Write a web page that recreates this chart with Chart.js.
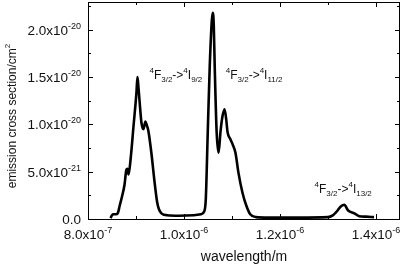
<!DOCTYPE html>
<html>
<head>
<meta charset="utf-8">
<script src="https://cdn.jsdelivr.net/npm/chart.js@4/dist/chart.umd.min.js"></script>
<style>
  html, body { margin: 0; padding: 0; background: #fff; }
  #wrap { width: 404px; height: 265px; }
</style>
</head>
<body>
<div id="wrap"><canvas id="chart" width="404" height="265"></canvas></div>
<script>
// wavelength in nm, cross section in units of 1e-20 cm^2
const wavelength = [847, 850, 853, 858, 862, 866, 871, 876, 880, 882, 884.5, 888.7, 894.8, 901, 903, 905, 907.2, 911.3, 915.5, 919.6, 922, 925.8, 932, 938, 944, 948, 953, 965, 990, 1020, 1035, 1042, 1045.4, 1049.5, 1053.6, 1058, 1060, 1062, 1064, 1068, 1072, 1076, 1080, 1084.5, 1088, 1090.7, 1096.9, 1102, 1107.2, 1113.4, 1121.7, 1129.9, 1138, 1150, 1175, 1237, 1300, 1309, 1320, 1326, 1334, 1342, 1355, 1365, 1379, 1396];
const crossSection = [0.01, 0.04, 0.05, 0.05, 0.06, 0.14, 0.24, 0.36, 0.52, 0.53, 0.47, 0.63, 0.98, 1.34, 1.50, 1.40, 1.26, 1.02, 0.95, 1.03, 1.00, 0.93, 0.70, 0.42, 0.18, 0.10, 0.06, 0.04, 0.035, 0.04, 0.05, 0.08, 0.21, 0.92, 1.61, 2.10, 2.18, 2.05, 1.61, 0.92, 0.70, 0.92, 1.08, 1.16, 1.05, 0.92, 0.84, 0.78, 0.70, 0.49, 0.28, 0.14, 0.05, 0.02, 0.015, 0.015, 0.02, 0.035, 0.09, 0.13, 0.15, 0.09, 0.06, 0.03, 0.025, 0.02];

const xTicks = [800, 1000, 1200, 1400];
const xMinorTicks = [900, 1100, 1300];
const xTickMantissa = ['8.0x10', '1.0x10', '1.2x10', '1.4x10'];
const xTickExponent = ['-7', '-6', '-6', '-6'];

const yTicks = [0, 0.5, 1, 1.5, 2];
const yMinorTicks = [0.25, 0.75, 1.25, 1.75, 2.25];
const yTickMantissa = ['0.0', '5.0x10', '1.0x10', '1.5x10', '2.0x10'];
const yTickExponent = ['', '-21', '-20', '-20', '-20'];

// transition labels: 4F(3/2) -> 4I(lowerSub)
const transitionLower = ['9/2', '11/2', '13/2'];
const transitionX = [928, 1087, 1272];
const transitionY = [1.484, 1.484, 0.279];

const FONT = '"Liberation Sans", Arial, sans-serif';

const framePlugin = {
  id: 'frame',
  afterDraw(chart) {
    const ctx = chart.ctx;
    const { left, right, top, bottom } = chart.chartArea;
    const xs = chart.scales.x, ys = chart.scales.y;
    ctx.save();
    ctx.strokeStyle = '#000';
    ctx.lineWidth = 1;
    ctx.strokeRect(left + 0.5, top + 0.5, right - left - 1, bottom - top);

    // inward ticks on all four sides
    ctx.beginPath();
    const tickX = (v, len) => {
      const p = Math.round(xs.getPixelForValue(v)) + 0.5;
      ctx.moveTo(p, bottom); ctx.lineTo(p, bottom - len);
      ctx.moveTo(p, top); ctx.lineTo(p, top + len);
    };
    const tickY = (v, len) => {
      const p = Math.round(ys.getPixelForValue(v)) + 0.5;
      ctx.moveTo(left, p); ctx.lineTo(left + len, p);
      ctx.moveTo(right, p); ctx.lineTo(right - len, p);
    };
    xTicks.forEach(v => tickX(v, 5));
    xMinorTicks.forEach(v => tickX(v, 3));
    yTicks.forEach(v => tickY(v, 5));
    yMinorTicks.forEach(v => tickY(v, 3));
    ctx.stroke();

    ctx.fillStyle = '#111';
    ctx.textBaseline = 'alphabetic';

    // x tick labels
    xTicks.forEach((v, i) => {
      ctx.font = '13.5px ' + FONT;
      const wm = ctx.measureText(xTickMantissa[i]).width;
      ctx.font = '9px ' + FONT;
      const we = ctx.measureText(xTickExponent[i]).width;
      const x0 = xs.getPixelForValue(v) - (wm + we) / 2;
      ctx.font = '13.5px ' + FONT;
      ctx.textAlign = 'left';
      ctx.fillText(xTickMantissa[i], x0, 239);
      ctx.font = '9px ' + FONT;
      ctx.fillText(xTickExponent[i], x0 + wm, 233);
    });

    // y tick labels
    yTicks.forEach((v, i) => {
      const y = ys.getPixelForValue(v);
      ctx.font = '9px ' + FONT;
      const we = ctx.measureText(yTickExponent[i]).width;
      const xr = left - 7;
      ctx.textAlign = 'right';
      ctx.fillText(yTickExponent[i], xr, y - 1);
      ctx.font = '13.5px ' + FONT;
      ctx.fillText(yTickMantissa[i], xr - we, y + 5);
    });

    // axis titles
    ctx.font = '14px ' + FONT;
    ctx.textAlign = 'center';
    ctx.fillText('wavelength/m', (left + right) / 2, 261);

    ctx.save();
    ctx.translate(16, 116);
    ctx.rotate(-Math.PI / 2);
    ctx.font = '12px ' + FONT;
    const tw = ctx.measureText('emission cross section/cm').width;
    ctx.font = '8px ' + FONT;
    const sw = ctx.measureText('2').width;
    ctx.textAlign = 'left';
    ctx.font = '12px ' + FONT;
    ctx.fillText('emission cross section/cm', -(tw + sw) / 2, 0);
    ctx.font = '8px ' + FONT;
    ctx.fillText('2', -(tw + sw) / 2 + tw, -6);
    ctx.restore();

    // transition labels
    ctx.textAlign = 'left';
    transitionX.forEach((v, i) => {
      let x = xs.getPixelForValue(v);
      const y = ys.getPixelForValue(transitionY[i]);
      const parts = [
        ['4', 'sup'], ['F', 'n'], ['3/2', 'sub'], ['->', 'n'],
        ['4', 'sup'], ['I', 'n'], [transitionLower[i], 'sub']
      ];
      parts.forEach(([t, k]) => {
        ctx.font = (k === 'n' ? '12px ' : '8px ') + FONT;
        const dy = k === 'sup' ? -6 : k === 'sub' ? 3 : 0;
        ctx.fillText(t, x, y + dy);
        x += ctx.measureText(t).width;
      });
    });
    ctx.restore();
  }
};

new Chart(document.getElementById('chart'), {
  type: 'line',
  data: {
    datasets: [{
      data: wavelength.map((x, i) => ({ x: x, y: crossSection[i] })),
      borderColor: '#000',
      borderWidth: 2.6,
      pointRadius: 0,
      cubicInterpolationMode: 'monotone',
      fill: false
    }]
  },
  options: {
    responsive: false,
    animation: false,
    layout: { padding: { top: 2, right: 4, left: 0, bottom: 0 } },
    plugins: { legend: { display: false }, tooltip: { enabled: false } },
    scales: {
      x: {
        type: 'linear', min: 800, max: 1450,
        ticks: { display: false }, grid: { display: false }, border: { display: false },
        afterFit(s) { s.height = 46; }
      },
      y: {
        min: 0, max: 2.293,
        ticks: { display: false }, grid: { display: false }, border: { display: false },
        afterFit(s) { s.width = 88; }
      }
    }
  },
  plugins: [framePlugin]
});
</script>
</body>
</html>
